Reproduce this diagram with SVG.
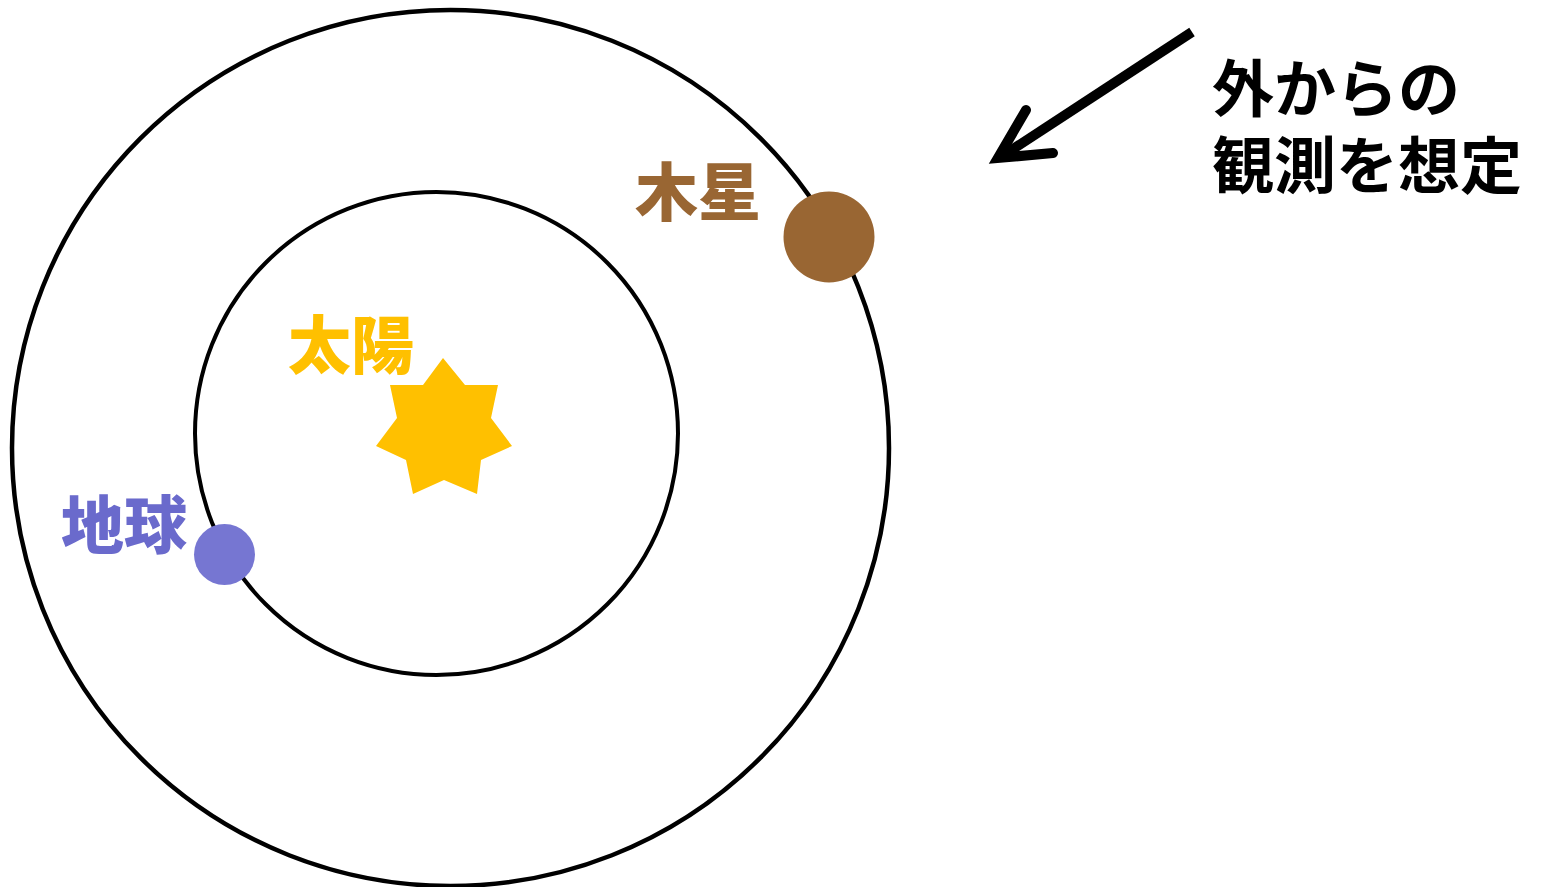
<svg xmlns="http://www.w3.org/2000/svg" width="1541" height="887" viewBox="0 0 1541 887">
<style>
.orbit{fill:none;stroke:#000;}
.lbl{font-family:"Noto Sans CJK JP","Noto Sans CJK SC",sans-serif;font-weight:900;font-size:63px;}
.note{font-family:"Noto Sans CJK JP","Noto Sans CJK SC",sans-serif;font-weight:bold;font-size:62px;fill:#000;}
</style>
<rect width="1541" height="887" fill="#fff"/>
<g id="outer-orbit"><ellipse class="orbit" cx="450.5" cy="448" rx="438.5" ry="438" stroke-width="4.5"/></g>
<g id="inner-orbit"><circle class="orbit" cx="436.5" cy="433.5" r="241.5" stroke-width="4"/></g>
<g id="sun">
<polygon fill="#FFC000" points="443,358 465,385 498,385 491,418 512,446 481,460 477,494 444,480 413,494 406,460 376,446 397,418 390,385 423,385"/>
<text class="lbl" x="288" y="368" fill="#FFC000">太陽</text>
</g>
<g id="jupiter">
<circle cx="829" cy="237" r="45.5" fill="#996633"/>
<text class="lbl" x="635" y="215" fill="#996633">木星</text>
</g>
<g id="earth">
<circle cx="224.5" cy="554.5" r="30.5" fill="#7676D2"/>
<text class="lbl" x="61" y="548" fill="#6A6ACC">地球</text>
</g>
<g id="connectors">
<line x1="1192" y1="32" x2="1004" y2="155" stroke="#000" stroke-width="10"/>
<polyline points="1026,110 998,158 1053,153" fill="none" stroke="#000" stroke-width="10" stroke-linecap="round" stroke-linejoin="miter" stroke-miterlimit="10"/>
</g>
<g id="note">
<text class="note" x="1212" y="112">外からの</text>
<text class="note" x="1212" y="189">観測を想定</text>
</g>
</svg>
